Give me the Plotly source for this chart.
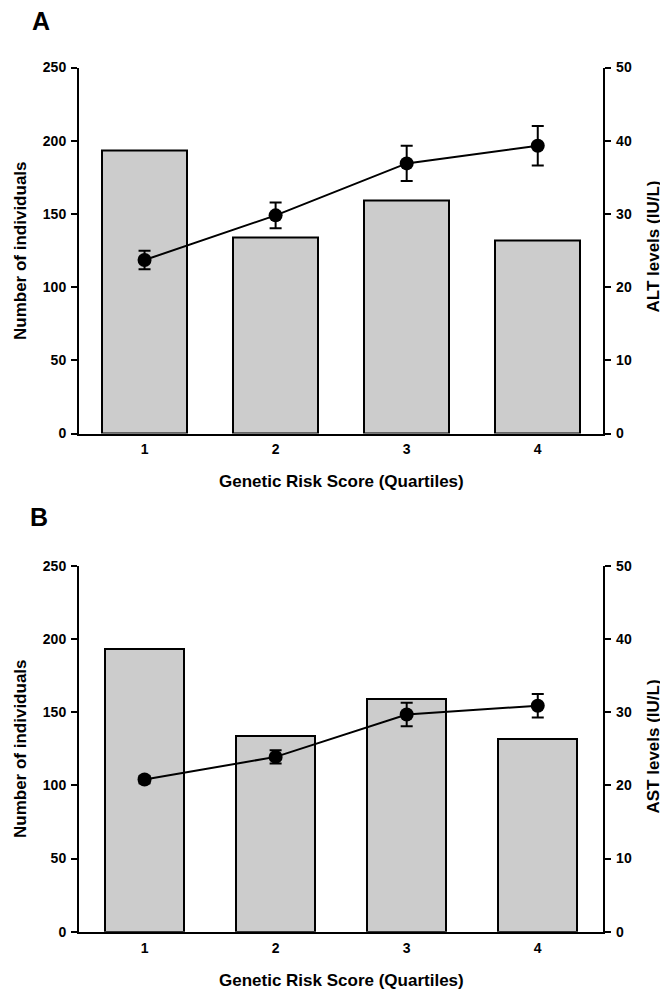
import plotly.graph_objects as go
from plotly.subplots import make_subplots

quartiles = [1, 2, 3, 4]
tick_labels = ["1", "2", "3", "4"]
counts_A = [193, 134, 159, 132]
counts_B = [193, 134, 159, 132]
alt_mean = [23.7, 29.8, 36.9, 39.3]
alt_err = [1.25, 1.75, 2.4, 2.7]
ast_mean = [20.8, 23.9, 29.7, 30.9]
ast_err = [0.5, 0.9, 1.6, 1.6]

FONT = "Liberation Sans, Arial, Helvetica, sans-serif"

# page body has an 8px margin, so the figure is drawn offset by 8px
OFF = 8
W, H = 668 - OFF, 992 - OFF

def px2x(p):
    return (p - OFF) / W

def px2y(p):
    return 1 - (p - OFF) / H

fig = make_subplots(rows=2, cols=1, specs=[[{"secondary_y": True}], [{"secondary_y": True}]])

panels = [
    (1, counts_A, alt_mean, alt_err, 0.65),
    (2, counts_B, ast_mean, ast_err, 0.60),
]
for row, counts, mean, err, bw in panels:
    fig.add_trace(go.Bar(x=quartiles, y=counts, width=bw,
                         marker=dict(color="#cccccc", line=dict(color="black", width=2)),
                         showlegend=False), row=row, col=1, secondary_y=False)
    fig.add_trace(go.Scatter(x=quartiles, y=mean, mode="lines+markers",
                             line=dict(color="black", width=2),
                             marker=dict(color="black", size=14),
                             error_y=dict(type="data", array=err, color="black", thickness=2, width=6),
                             showlegend=False), row=row, col=1, secondary_y=True)

xdom = [px2x(79), px2x(603.3)]
doms = {1: [px2y(433.5), px2y(67.5)], 2: [px2y(931.7), px2y(566)]}

tickfont = dict(family=FONT, size=14, color="black", weight="bold")
common_y = dict(showline=True, linewidth=2, linecolor="black", ticks="outside", ticklen=6,
                tickwidth=2, tickcolor="black", showgrid=False, zeroline=False,
                tickfont=tickfont, ticklabelstandoff=2, automargin=False)
common_x = dict(range=[0.5, 4.5], tickvals=quartiles, ticktext=tick_labels,
                showline=True, linewidth=2, linecolor="black", ticks="", showgrid=False,
                zeroline=False, tickfont=tickfont, ticklabelstandoff=2, automargin=False)

fig.update_layout(
    template="none",
    width=W, height=H, margin=dict(l=0, r=0, t=0, b=0, pad=0),
    plot_bgcolor="white", paper_bgcolor="white", bargap=0,
    font=dict(family=FONT, color="black"),
    xaxis=dict(domain=xdom, **common_x),
    xaxis2=dict(domain=xdom, **common_x),
)
fig.update_layout(
    yaxis=dict(domain=doms[1], range=[0, 250], tickvals=[0, 50, 100, 150, 200, 250], **common_y),
    yaxis2=dict(domain=doms[1], range=[0, 50], tickvals=[0, 10, 20, 30, 40, 50], side="right",
                overlaying="y", **common_y),
    yaxis3=dict(domain=doms[2], range=[0, 250], tickvals=[0, 50, 100, 150, 200, 250], **common_y),
    yaxis4=dict(domain=doms[2], range=[0, 50], tickvals=[0, 10, 20, 30, 40, 50], side="right",
                overlaying="y3", **common_y),
)

titlefont = dict(family=FONT, size=17, color="black")
annos = [
    dict(text="<b>A</b>", x=px2x(41), y=px2y(21), font=dict(family=FONT, size=25, color="black")),
    dict(text="<b>B</b>", x=px2x(38.5), y=px2y(517), font=dict(family=FONT, size=25, color="black")),
    dict(text="<b>Genetic Risk Score (Quartiles)</b>", x=px2x(341), y=px2y(481.5), font=titlefont),
    dict(text="<b>Genetic Risk Score (Quartiles)</b>", x=px2x(341), y=px2y(980), font=titlefont),
    dict(text="<b>Number of individuals</b>", x=px2x(20), y=px2y(251), textangle=-90, font=titlefont),
    dict(text="<b>Number of individuals</b>", x=px2x(20), y=px2y(749), textangle=-90, font=titlefont),
    dict(text="<b>ALT levels (IU/L)</b>", x=px2x(652.5), y=px2y(247), textangle=-90, font=titlefont),
    dict(text="<b>AST levels (IU/L)</b>", x=px2x(652.5), y=px2y(747), textangle=-90, font=titlefont),
]
for a in annos:
    fig.add_annotation(xref="paper", yref="paper", showarrow=False, xanchor="center",
                       yanchor="middle", **a)

fig.write_html("out.html")
